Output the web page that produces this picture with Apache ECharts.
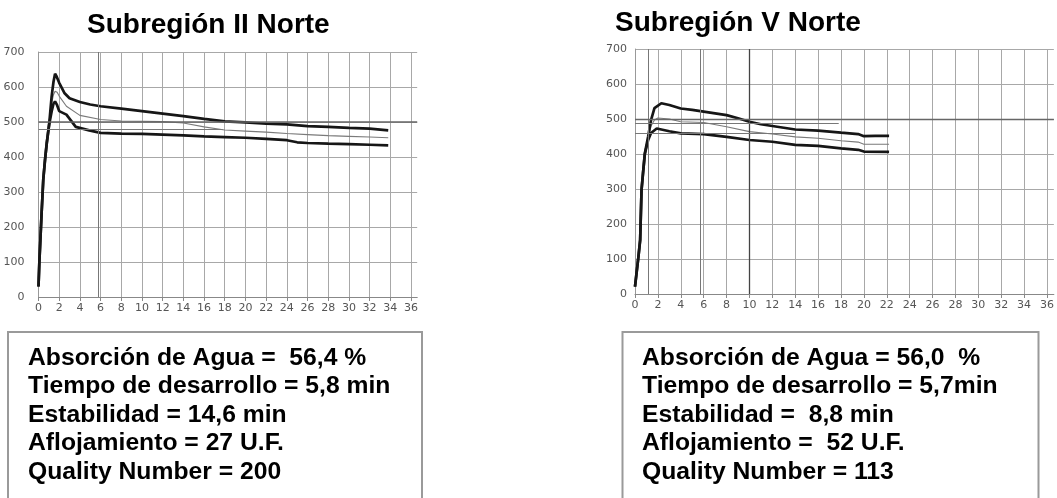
<!DOCTYPE html>
<html><head><meta charset="utf-8">
<script src="https://cdn.jsdelivr.net/npm/echarts/dist/echarts.min.js"></script>
<style>html,body{margin:0;padding:0;background:#fff;}#c{width:1057px;height:498px;}</style>
</head><body><div id="c"></div>
<script>
// ---- tick labels ----
const xTicks = [0,2,4,6,8,10,12,14,16,18,20,22,24,26,28,30,32,34,36];
const yTicks = [0,100,200,300,400,500,600,700];

// ---- titles & info text ----
const titles = ['Subregión II Norte', 'Subregión V Norte'];
const infoLeft = ['Absorción de Agua =  56,4 %','Tiempo de desarrollo = 5,8 min','Estabilidad = 14,6 min','Aflojamiento = 27 U.F.','Quality Number = 200'];
const infoRight = ['Absorción de Agua = 56,0  %','Tiempo de desarrollo = 5,7min','Estabilidad =  8,8 min','Aflojamiento =  52 U.F.','Quality Number = 113'];

// ---- Subregión II Norte curves (time in min, consistency in U.F.) ----
const leftUpperT = [0,0.08,0.3,0.46,0.63,0.8,1.05,1.27,1.45,1.6,1.75,2,2.5,3,4,5,6,8,10,12,14,16,18,20,22,24,26,28,30,32,33.8];
const leftUpperV = [30,97,240,335,392,440,500,573,615,638,630,612,583,568,557,550,545,538,531,524,517,509,502,499,495,493,488,486,483,481,476];
const leftMidT   = [0,0.08,0.3,0.46,0.63,0.8,1.05,1.27,1.45,1.6,1.8,2,2.7,4,6,8,10,12,14,16,18,20,22,24,26,28,30,32,33.8];
const leftMidV   = [30,97,240,335,392,440,498,554,578,588,585,574,545,519,507,503,502,501,497,486,477,474,471,467,464,461,459,457,455];
const leftLowT   = [0,0.08,0.3,0.46,0.63,0.8,1.05,1.27,1.45,1.6,1.8,2,2.7,3.6,4.9,6,8,10,12,14,16,18,20,22,24,25,26,28,30,32,33.8];
const leftLowV   = [30,97,240,335,392,440,496,530,552,559,548,531,521,486,476,469,467,466,464,462,459,457,455,452,448,442,440,438,437,435,433];

// ---- Subregión V Norte curves ----
const rightUpperT = [0,0.15,0.3,0.45,0.57,0.7,0.86,1.15,1.4,1.7,2.3,3,4,5,6,7,8,9,10,11,12,13,14,16,18,19.5,20,21,22.2];
const rightUpperV = [21,26,107,154,297,345,402,450,497,531,545,540,530,526,521,516,511,502,492,485,480,475,470,467,461,457,451,452,452];
const rightMidT   = [0,0.15,0.3,0.45,0.57,0.7,0.86,1.15,1.4,1.7,2,3,4,6,8,10,12,14,16,18,19.5,20,22.2];
const rightMidV   = [21,26,107,154,297,345,402,445,480,497,503,500,492,490,478,464,457,449,445,438,434,428,428];
const rightLowT   = [0,0.15,0.3,0.45,0.57,0.7,0.86,1.15,1.4,1.9,3,4,6,8,10,12,14,16,18,19.5,20,22.2];
const rightLowV   = [21,26,107,154,297,345,400,440,460,473,465,459,457,449,440,435,426,423,416,412,407,406];

const zip = (t, v) => t.map((x, i) => [x, v[i]]);
const FONT = 'Liberation Sans, Arial, sans-serif';
const AXFONT = 'DejaVu Sans, Verdana, sans-serif';

function xAx(gi) {
  return {
    type: 'value', gridIndex: gi, min: 0, max: 36.6, interval: 2,
    axisLine: { show: true, onZero: false, lineStyle: { color: '#888', width: 1 } },
    axisTick: { show: true, length: 4, customValues: xTicks, lineStyle: { color: '#888' } },
    axisLabel: { customValues: xTicks, color: '#555', fontSize: 11, fontFamily: AXFONT, margin: 6 },
    splitLine: { show: true, lineStyle: { color: '#a8a8a8', width: 1 } }
  };
}
function yAx(gi, margin) {
  return {
    type: 'value', gridIndex: gi, min: 0, max: 700, interval: 100,
    axisLine: { show: true, lineStyle: { color: '#999', width: 1 } },
    axisTick: { show: false },
    axisLabel: { customValues: yTicks, color: '#555', fontSize: 11, fontFamily: AXFONT, margin: margin },
    splitLine: { show: true, lineStyle: { color: '#a8a8a8', width: 1 } }
  };
}
function line(gi, data, dark, marks) {
  const s = {
    type: 'line', xAxisIndex: gi, yAxisIndex: gi, data: data, showSymbol: false,
    lineStyle: dark ? { color: '#161616', width: 2.7 } : { color: '#7a7a7a', width: 1.1 },
    z: dark ? 3 : 2, silent: true
  };
  if (marks) {
    s.markLine = { silent: true, symbol: 'none', label: { show: false },
      lineStyle: { color: '#777', width: 1, type: 'solid' }, data: marks };
  }
  return s;
}

const infoGraphics = [];
function addBox(x, w, lines, tx) {
  infoGraphics.push({ type: 'rect', shape: { x: x, y: 332, width: w, height: 190 },
    style: { fill: 'none', stroke: '#9a9a9a', lineWidth: 2 } });
  lines.forEach((t, i) => infoGraphics.push({ type: 'text', x: tx, y: 358 + 28.5 * i,
    style: { text: t, font: 'bold 24.7px ' + FONT, fill: '#000', textVerticalAlign: 'middle' } }));
}
addBox(8, 414, infoLeft, 28);
addBox(622.5, 416, infoRight, 642);

const option = {
  animation: false,
  backgroundColor: '#fff',
  grid: [
    { left: 38.5, top: 52, width: 378.7, height: 245 },
    { left: 635, top: 49, width: 425, height: 245 }
  ],
  xAxis: [xAx(0), xAx(1)],
  yAxis: [yAx(0, 14), yAx(1, 8)],
  series: [
    line(0, zip(leftUpperT, leftUpperV), true),
    line(0, zip(leftMidT, leftMidV), false, [
      { xAxis: 5.8 },
      { yAxis: 500, lineStyle: { color: '#666', width: 1.5 } },
      [{ coord: [0, 480] }, { coord: [17.8, 480] }]
    ]),
    line(0, zip(leftLowT, leftLowV), true),
    line(1, zip(rightUpperT, rightUpperV), true),
    line(1, zip(rightMidT, rightMidV), false, [
      { xAxis: 5.7 },
      { xAxis: 10, lineStyle: { color: '#444', width: 1.3 } },
      { xAxis: 1.15 },
      { yAxis: 500, lineStyle: { color: '#666', width: 1.3 } },
      [{ coord: [0, 488] }, { coord: [17.8, 488] }],
      [{ coord: [0, 458] }, { coord: [14, 458] }]
    ]),
    line(1, zip(rightLowT, rightLowV), true)
  ],
  graphic: [
    { type: 'text', x: 87, y: 25, style: { text: titles[0], font: 'bold 28px ' + FONT, fill: '#000', textVerticalAlign: 'middle' } },
    { type: 'text', x: 615, y: 23, style: { text: titles[1], font: 'bold 28px ' + FONT, fill: '#000', textVerticalAlign: 'middle' } }
  ].concat(infoGraphics)
};
const chart = echarts.init(document.getElementById('c'), null, { renderer: 'canvas' });
chart.setOption(option);
</script></body></html>
